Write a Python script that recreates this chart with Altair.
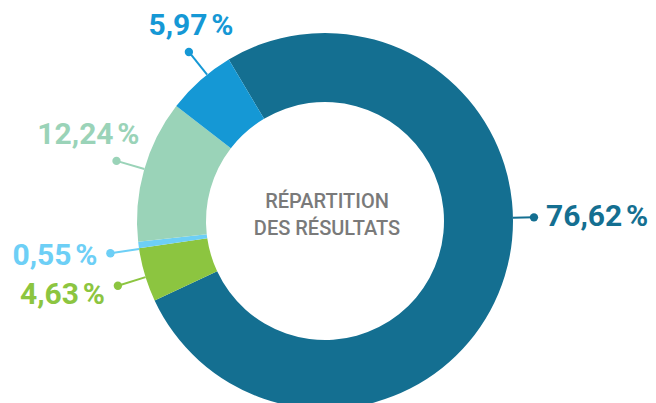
import math
import altair as alt
import pandas as pd

# ---- data ----
labels = ["76,62\u202f%", "4,63\u202f%", "0,55\u202f%", "12,24\u202f%", "5,97\u202f%"]
values = [76.62, 4.63, 0.55, 12.24, 5.97]
colors = ["#146f91", "#8cc540", "#6dcff6", "#9ad3b8", "#1598d5"]
center_lines = ["RÉPARTITION", "DES RÉSULTATS"]

df = pd.DataFrame({"label": labels, "value": values, "order": list(range(len(values))), "color": colors})
cdf = pd.DataFrame({"line": center_lines, "i": list(range(len(center_lines)))})

# ---- layout ----
W, H = 640, 395
CX, CY = 317, 213
R_OUT, R_IN = 188, 119
START = math.radians(-30.8)

base = alt.Chart(df)

arc = base.mark_arc(outerRadius=R_OUT, innerRadius=R_IN, strokeWidth=0).encode(
    theta=alt.Theta("value:Q", stack=True, scale=alt.Scale(range=[START, START + 2 * math.pi])),
    order=alt.Order("order:Q"),
    color=alt.Color("color:N", scale=None, legend=None),
    x=alt.value(CX),
    y=alt.value(CY),
)

geo = base.transform_joinaggregate(total="sum(value)").transform_window(
    cum="sum(value)", sort=[alt.SortField("order")], frame=[None, 0]
).transform_calculate(
    mid=f"{START} + 2*PI*(datum.cum - datum.value/2)/datum.total",
).transform_calculate(
    # leader-line angle: slice middle with small layout nudges (degrees); main slice label sits at 3 o'clock
    ang=f"datum.order == 0 ? {math.radians(89)} : datum.mid + PI/180*[0, -0.7, -1.2, 0.4, 2.7][datum.order]",
    rd="datum.order == 0 ? 209 : 217",
).transform_calculate(
    x0=f"{CX} + {R_OUT}*sin(datum.ang)",
    y0=f"{CY} - {R_OUT}*cos(datum.ang)",
    x1=f"{CX} + datum.rd*sin(datum.ang)",
    y1=f"{CY} - datum.rd*cos(datum.ang)",
).transform_calculate(
    tx="datum.x1 + [12, -13, -13, 23, 2][datum.order]",
    ty="datum.y1 + [0, 9, 3, -26, -26][datum.order]",
)

rules = geo.mark_rule(strokeWidth=2).encode(
    x=alt.X("x0:Q", scale=None, axis=None),
    y=alt.Y("y0:Q", scale=None, axis=None),
    x2="x1:Q",
    y2="y1:Q",
    color=alt.Color("color:N", scale=None, legend=None),
)

dots = geo.mark_circle(size=70, opacity=1).encode(
    x=alt.X("x1:Q", scale=None, axis=None),
    y=alt.Y("y1:Q", scale=None, axis=None),
    color=alt.Color("color:N", scale=None, legend=None),
)

def label_layer(align, cond):
    return geo.transform_filter(cond).mark_text(
        align=align, baseline="middle", font="Roboto", fontSize=30, fontWeight="bold"
    ).encode(
        x=alt.X("tx:Q", scale=None, axis=None),
        y=alt.Y("ty:Q", scale=None, axis=None),
        text="label:N",
        color=alt.Color("color:N", scale=None, legend=None),
    )

txt_left = label_layer("left", "datum.order == 0")
txt_center = label_layer("center", "datum.order == 4")
txt_right = label_layer("right", "datum.order >= 1 && datum.order <= 3")

center = alt.Chart(cdf).transform_calculate(
    cy="200 + 27*datum.i"
).mark_text(
    align="center", baseline="alphabetic", font="Roboto", fontSize=20, fontWeight=500, color="#7a7a7a"
).encode(
    x=alt.value(CX + 2),
    y=alt.Y("cy:Q", scale=None, axis=None),
    text="line:N",
)

chart = alt.layer(arc, rules, dots, txt_left, txt_center, txt_right, center).properties(
    width=W, height=H, autosize=alt.AutoSizeParams(type="none"), padding=0
).configure_view(stroke=None)

chart.save("out.html", embed_options={"renderer": "svg", "actions": False})
